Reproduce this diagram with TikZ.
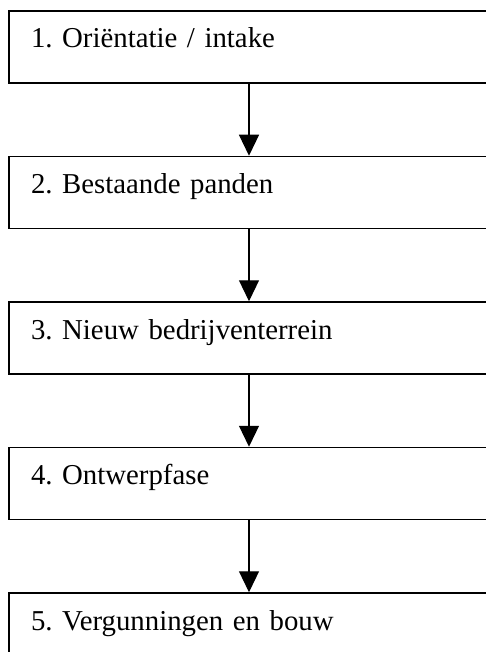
\documentclass[tikz,border=0pt]{standalone}
\usepackage{fontspec}
\setmainfont{Liberation Serif}
\usetikzlibrary{arrows.meta,positioning}

\begin{document}
\begin{tikzpicture}[x=1pt,y=1pt,every node/.style={font=\fontsize{28.8}{34}\selectfont\frenchspacing},
 stage/.style={draw,line width=1.5pt,text width=436pt,inner xsep=22pt,inner ysep=0pt,
   text height=37pt,text depth=35pt,align=left},
 flow/.style={line width=1.2pt,-{Triangle[width=20pt,length=21pt]}}]
\useasboundingbox (0,0) rectangle (485,-652);
\node[stage] (s1) at (249,-47) {1. Oriëntatie / intake};
\node[stage,below=72pt of s1] (s2) {2. Bestaande panden};
\node[stage,below=72pt of s2] (s3) {3. Nieuw bedrijventerrein};
\node[stage,below=72pt of s3] (s4) {4. Ontwerpfase};
\node[stage,below=72pt of s4] (s5) {5. Vergunningen en bouw};
\foreach \a/\b in {s1/s2,s2/s3,s3/s4,s4/s5}{\draw[flow] (\a)--(\b);}
\end{tikzpicture}
\end{document}
